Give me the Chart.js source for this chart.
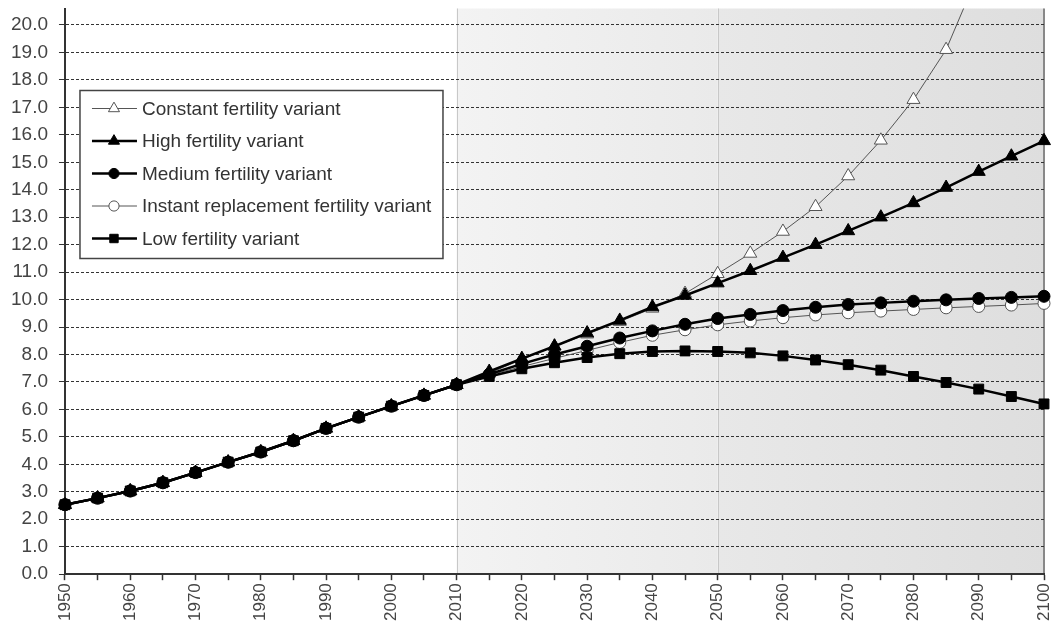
<!DOCTYPE html>
<html>
<head>
<meta charset="utf-8">
<script src="https://cdn.jsdelivr.net/npm/chart.js@4.4.1/dist/chart.umd.min.js"></script>
<style>
  html, body { margin: 0; padding: 0; background: #fff; }
  #wrap { width: 1053px; height: 626px; }
</style>
</head>
<body>
<div id="wrap"><canvas id="chart" width="1053" height="626"></canvas></div>
<script>
// World population by projection variant (billions)

const years = [1950, 1955, 1960, 1965, 1970, 1975, 1980, 1985, 1990, 1995, 2000, 2005, 2010,
  2015, 2020, 2025, 2030, 2035, 2040, 2045, 2050, 2055, 2060, 2065, 2070, 2075, 2080, 2085, 2090, 2095, 2100];

// 1950-2010 estimates, shared by every variant
const estimates = [2.53, 2.77, 3.03, 3.33, 3.70, 4.08, 4.45, 4.86, 5.31, 5.72, 6.12, 6.51, 6.90];

// 2015-2100 projections
const constantVariant = [7.32, 7.82, 8.30, 8.74, 9.20, 9.68, 10.22, 10.94, 11.68, 12.48, 13.38, 14.50, 15.80, 17.28, 19.10, 21.90, 24.20, 26.80];
const highVariant = [7.38, 7.85, 8.30, 8.78, 9.24, 9.73, 10.15, 10.60, 11.05, 11.53, 12.00, 12.50, 13.00, 13.52, 14.08, 14.66, 15.22, 15.78];
const mediumVariant = [7.28, 7.66, 8.00, 8.30, 8.60, 8.86, 9.10, 9.31, 9.46, 9.60, 9.72, 9.82, 9.88, 9.94, 9.99, 10.04, 10.08, 10.12];
const instantVariant = [7.25, 7.56, 7.86, 8.15, 8.44, 8.70, 8.90, 9.08, 9.22, 9.34, 9.44, 9.52, 9.58, 9.64, 9.70, 9.75, 9.80, 9.86];
const lowVariant = [7.20, 7.48, 7.70, 7.89, 8.03, 8.11, 8.13, 8.11, 8.06, 7.95, 7.80, 7.63, 7.43, 7.20, 6.98, 6.74, 6.47, 6.20];

const seriesLabels = [
  'Constant fertility variant',
  'High fertility variant',
  'Medium fertility variant',
  'Instant replacement fertility variant',
  'Low fertility variant'
];

// shaded projection periods
const bandMedium = [2010, 2050];
const bandLong = [2050, 2100];

const FONT = '"Liberation Sans", Arial, sans-serif';

function markerSize(style) {
  if (style === 'triangle') return 7.5;
  if (style === 'rect') return 7;
  return 6;
}

function makeSet(label, values, thick, style, open) {
  return {
    label: label,
    data: estimates.concat(values),
    borderColor: thick ? '#000' : '#555',
    borderWidth: thick ? 2.5 : 1,
    pointStyle: style,
    pointRadius: markerSize(style),
    pointHoverRadius: markerSize(style),
    pointBackgroundColor: open ? '#fff' : '#000',
    pointBorderColor: open ? '#555' : '#000',
    pointBorderWidth: 1,
    tension: 0,
    order: open ? 1 : 0,
    clip: { left: 10, top: 0, right: 10, bottom: 10 }
  };
}

// background bands for the projection periods
const bandPlugin = {
  id: 'bands',
  beforeDraw(chart) {
    const { ctx, chartArea, scales } = chart;
    const x = scales.x;
    const px = yr => x.getPixelForValue(years.indexOf(yr));
    const fillBand = (band, c1, c2) => {
      const a = px(band[0]), b = px(band[1]);
      const g = ctx.createLinearGradient(a, 0, b, 0);
      g.addColorStop(0, c1);
      g.addColorStop(1, c2);
      ctx.fillStyle = g;
      ctx.fillRect(a, chartArea.top, b - a, chartArea.bottom - chartArea.top);
    };
    ctx.save();
    fillBand(bandMedium, '#f3f3f3', '#eaeaea');
    fillBand(bandLong, '#e8e8e8', '#dedede');
    ctx.strokeStyle = '#c8c8c8';
    ctx.lineWidth = 1;
    [bandMedium[0], bandLong[0]].forEach(yr => {
      const p = Math.round(px(yr)) + 0.5;
      ctx.beginPath();
      ctx.moveTo(p, chartArea.top);
      ctx.lineTo(p, chartArea.bottom);
      ctx.stroke();
    });
    ctx.strokeStyle = '#888';
    ctx.lineWidth = 2;
    const r = px(bandLong[1]);
    ctx.beginPath();
    ctx.moveTo(r, chartArea.top);
    ctx.lineTo(r, chartArea.bottom);
    ctx.stroke();
    ctx.restore();
  }
};

function drawMarker(ctx, style, x, y, r) {
  ctx.beginPath();
  if (style === 'triangle') {
    ctx.moveTo(x, y - r);
    ctx.lineTo(x + r * 0.87, y + r * 0.5);
    ctx.lineTo(x - r * 0.87, y + r * 0.5);
    ctx.closePath();
  } else if (style === 'rect') {
    const s = r * 0.707;
    ctx.rect(x - s, y - s, s * 2, s * 2);
  } else {
    ctx.arc(x, y, r, 0, Math.PI * 2);
  }
  ctx.fill();
  ctx.stroke();
}

// boxed legend inside the plot area
const legendPlugin = {
  id: 'boxLegend',
  afterDraw(chart) {
    const { ctx, chartArea } = chart;
    const sets = chart.data.datasets;
    const x0 = chartArea.left + 15;
    const y0 = chartArea.top + 82;
    const rowH = 32.5;
    ctx.save();
    ctx.font = '19px ' + FONT;
    const textW = Math.max(...sets.map(d => ctx.measureText(d.label).width));
    const w = Math.round(62 + textW + 12);
    const h = Math.round(sets.length * rowH + 5);
    ctx.fillStyle = '#fff';
    ctx.fillRect(x0, y0, w, h);
    ctx.strokeStyle = '#444';
    ctx.lineWidth = 1.5;
    ctx.strokeRect(x0, y0, w, h);
    sets.forEach((d, i) => {
      const cy = y0 + 18 + i * rowH;
      ctx.strokeStyle = d.borderColor;
      ctx.lineWidth = d.borderWidth;
      ctx.beginPath();
      ctx.moveTo(x0 + 12, cy);
      ctx.lineTo(x0 + 57, cy);
      ctx.stroke();
      ctx.fillStyle = d.pointBackgroundColor;
      ctx.strokeStyle = d.pointBorderColor;
      ctx.lineWidth = 1;
      drawMarker(ctx, d.pointStyle, x0 + 34, cy, d.pointRadius * 0.85);
      ctx.fillStyle = '#333';
      ctx.textBaseline = 'middle';
      ctx.textAlign = 'left';
      ctx.fillText(d.label, x0 + 62, cy + 1);
    });
    ctx.restore();
  }
};

// let the plot run right up to the canvas edges like the original
function noEdgePadding(axis) {
  axis.paddingTop = 0;
  axis.paddingBottom = 0;
  axis.paddingLeft = 0;
  axis.paddingRight = 0;
}

document.addEventListener('DOMContentLoaded', () => {
  const ctx = document.getElementById('chart').getContext('2d');
  new Chart(ctx, {
    type: 'line',
    data: {
      labels: years,
      datasets: [
        makeSet(seriesLabels[0], constantVariant, false, 'triangle', true),
        makeSet(seriesLabels[1], highVariant, true, 'triangle', false),
        makeSet(seriesLabels[2], mediumVariant, true, 'circle', false),
        makeSet(seriesLabels[3], instantVariant, false, 'circle', true),
        makeSet(seriesLabels[4], lowVariant, true, 'rect', false)
      ]
    },
    options: {
      responsive: false,
      animation: false,
      layout: { padding: { left: 0, right: 9, top: 7, bottom: 2 } },
      plugins: {
        legend: { display: false },
        title: { display: false },
        tooltip: { enabled: false }
      },
      scales: {
        x: {
          type: 'category',
          offset: false,
          afterFit: noEdgePadding,
          grid: { drawOnChartArea: false, drawTicks: true, tickLength: 6, tickColor: '#333', tickWidth: 1.5 },
          border: { display: true, color: '#333', width: 2 },
          ticks: {
            autoSkip: false,
            minRotation: 90,
            maxRotation: 90,
            padding: 3,
            color: '#444',
            font: { family: FONT, size: 17 },
            callback: (v, i) => (years[i] % 10 === 0 ? String(years[i]) : '')
          }
        },
        y: {
          min: 0,
          max: 20.6,
          bounds: 'data',
          afterFit: noEdgePadding,
          grid: { color: '#333', lineWidth: 1, tickLength: 6, tickColor: '#333', tickBorderDash: [] },
          border: { display: true, color: '#333', width: 2, dash: [3, 2] },
          ticks: {
            stepSize: 1,
            includeBounds: false,
            padding: 11,
            color: '#444',
            font: { family: FONT, size: 19, lineHeight: 1 },
            callback: v => Number(v).toFixed(1)
          }
        }
      }
    },
    plugins: [bandPlugin, legendPlugin]
  });
});
</script>
</body>
</html>
